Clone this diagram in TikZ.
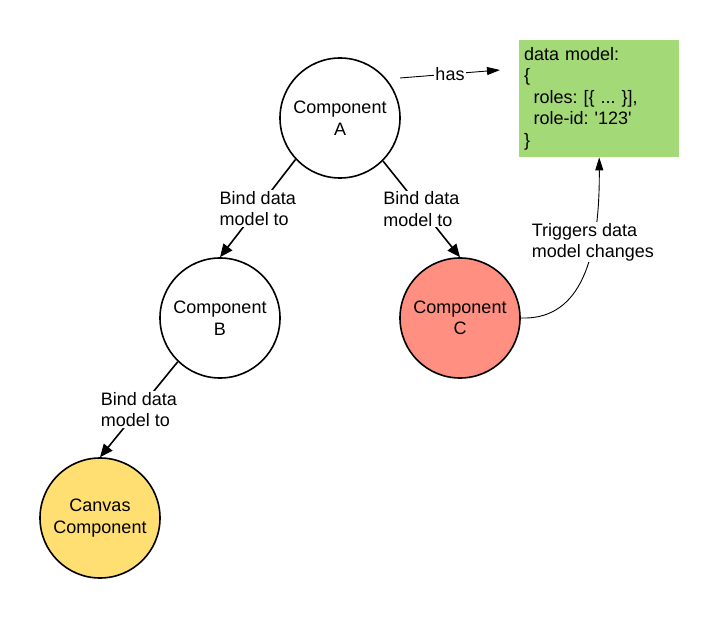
\documentclass[tikz,border=0pt]{standalone}
\usepackage{fontspec}
\setmainfont{Liberation Sans}
\usepackage{tikz}
\usetikzlibrary{arrows.meta}
\definecolor{lucidgreen}{HTML}{A3D977}
\definecolor{lucidred}{HTML}{FF8F80}
\definecolor{lucidyellow}{HTML}{FFDF71}
\frenchspacing
\tikzset{
  comp/.style={circle,draw,line width=1.6pt,minimum size=120pt,inner sep=0pt,align=center},
  lbl/.style={fill=white,inner sep=1pt,align=left},
  bind/.style={line width=1.6pt,-{Triangle[length=13pt,width=11pt]}},
  thin/.style={line width=0.9pt,-{Triangle[length=13pt,width=8pt]}}
}

\begin{document}
\begin{tikzpicture}[x=1pt,y=-1pt,font=\fontsize{18}{21.5}\selectfont]

\useasboundingbox (0,0) rectangle (720,620);

\node[comp] (a) at (340,118) {Component\\A};
\node[comp] (b) at (220,318) {Component\\B};
\node[comp,fill=lucidred] (c) at (460,318) {Component\\C};
\node[comp,fill=lucidyellow] (cv) at (100,518) {Canvas\\Component};

\node[fill=lucidgreen,anchor=north west,minimum width=160pt,minimum height=117pt,
      text width=150pt,inner xsep=5pt,align=left] (dm) at (519,40)
  {data model:\\\{\\\hspace*{9.5pt}roles: [\{ ... \}],\\\hspace*{9.5pt}role-id: \textquotesingle 123\textquotesingle\\\}};

\coordinate (hs) at (400,78);
\coordinate (he) at (500,70);
\draw[thin] (hs) -- (he) node[midway,lbl] {has};

\draw[bind] (a.-137) -- (b.north) node[midway,lbl] {Bind data\\model to};
\draw[bind] (a.-45) -- (c.north) node[midway,lbl] {Bind data\\model to};
\draw[bind] (b.-134) -- (cv.north) node[midway,lbl] {Bind data\\model to};

\draw[thin] (c.east) .. controls (575,320) and (600,270) .. (dm.south)
  node[pos=0.7,lbl] {Triggers data\\model changes};

\end{tikzpicture}
\end{document}
